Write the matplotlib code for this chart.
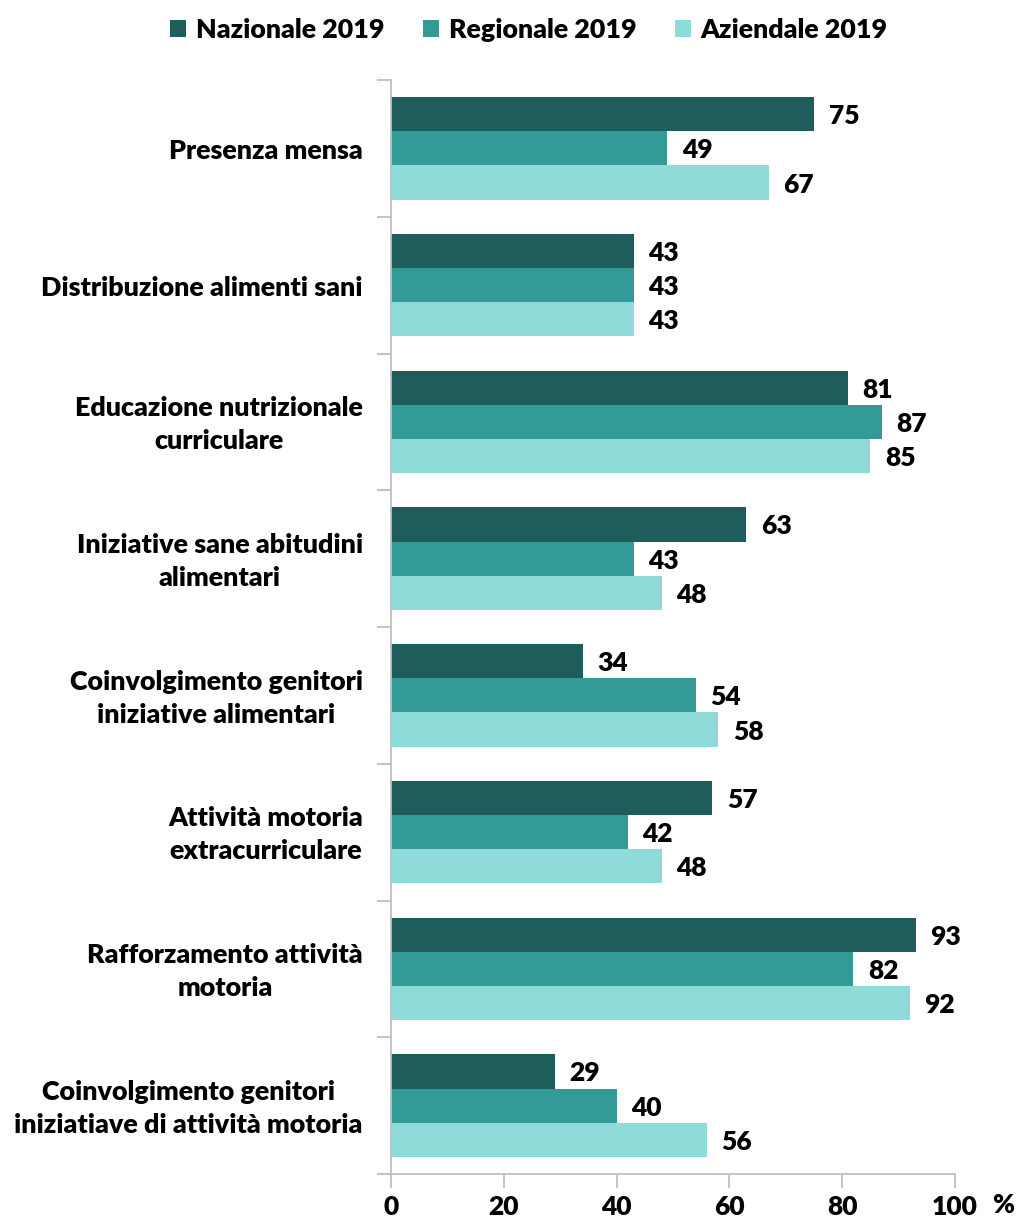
import numpy as np
import matplotlib
matplotlib.use('Agg')
from matplotlib import pyplot as plt

categorie = ['Presenza mensa',
             'Distribuzione alimenti sani',
             'Educazione nutrizionale\ncurriculare',
             'Iniziative sane abitudini\nalimentari',
             'Coinvolgimento genitori\niniziative alimentari',
             'Attività motoria\nextracurriculare',
             'Rafforzamento attività\nmotoria',
             'Coinvolgimento genitori\niniziatiave di attività motoria']
nazionale = [75, 43, 81, 63, 34, 57, 93, 29]
regionale = [49, 43, 87, 43, 54, 42, 82, 40]
aziendale = [67, 43, 85, 48, 58, 48, 92, 56]
serie = ['Nazionale 2019', 'Regionale 2019', 'Aziendale 2019']
colori = ['#1f5c5c', '#339a98', '#8fdbd9']
ticks_x = [0, 20, 40, 60, 80, 100]

plt.rcParams['font.family'] = ['Lato', 'DejaVu Sans']
plt.rcParams['font.weight'] = 'heavy'
fs = 19
w = 'heavy'

fig = plt.figure(figsize=(10.16, 12.19), dpi=100)
ax = fig.add_axes([391/1016, 1-1174/1219, (955-391)/1016, (1174-80)/1219])

n = len(categorie)
y = np.arange(n)
h = 0.25
for i, (vals, lab, col) in enumerate(zip([nazionale, regionale, aziendale], serie, colori)):
    pos = y + (i - 1) * h
    ax.barh(pos, vals, height=h, color=col, label=lab)
    for p, v in zip(pos, vals):
        ax.text(v + 2.6, p + 0.015, str(v), va='center', ha='left', fontsize=fs, fontweight=w)

ax.set_ylim(n - 0.5, -0.5)
ax.set_xlim(0, 100)
ax.set_xticks(ticks_x)
ax.set_xticklabels([str(t) for t in ticks_x], fontsize=fs, fontweight=w)
ax.set_yticks(np.arange(n + 1) - 0.5)
ax.set_yticklabels([])
ax.tick_params(axis='y', direction='out', length=10, color='#bfbfbf', width=1.3)
ax.tick_params(axis='x', direction='out', length=10, color='#bfbfbf', width=1.3, pad=5)
for s in ['top', 'right']:
    ax.spines[s].set_visible(False)
for s in ['left', 'bottom']:
    ax.spines[s].set_color('#bfbfbf')
    ax.spines[s].set_linewidth(1.3)

for yy, c in zip(y, categorie):
    ax.text(-0.05, yy + 0.02, c, transform=ax.get_yaxis_transform(), ha='right', va='center',
            multialignment='center', fontsize=19.4, fontweight=w, linespacing=1.45)

fig.text(1003/1016, 1-1205/1219, '%', ha='center', va='center', fontsize=fs, fontweight=w)

leg = fig.legend(loc='center', bbox_to_anchor=(529/1016, 1-30/1219), ncol=3, frameon=False,
                 prop={'size': fs + 0.3, 'weight': w}, handlelength=0.6, handleheight=0.6,
                 handletextpad=0.35, columnspacing=1.45)

fig.savefig('out.png', dpi=100)
